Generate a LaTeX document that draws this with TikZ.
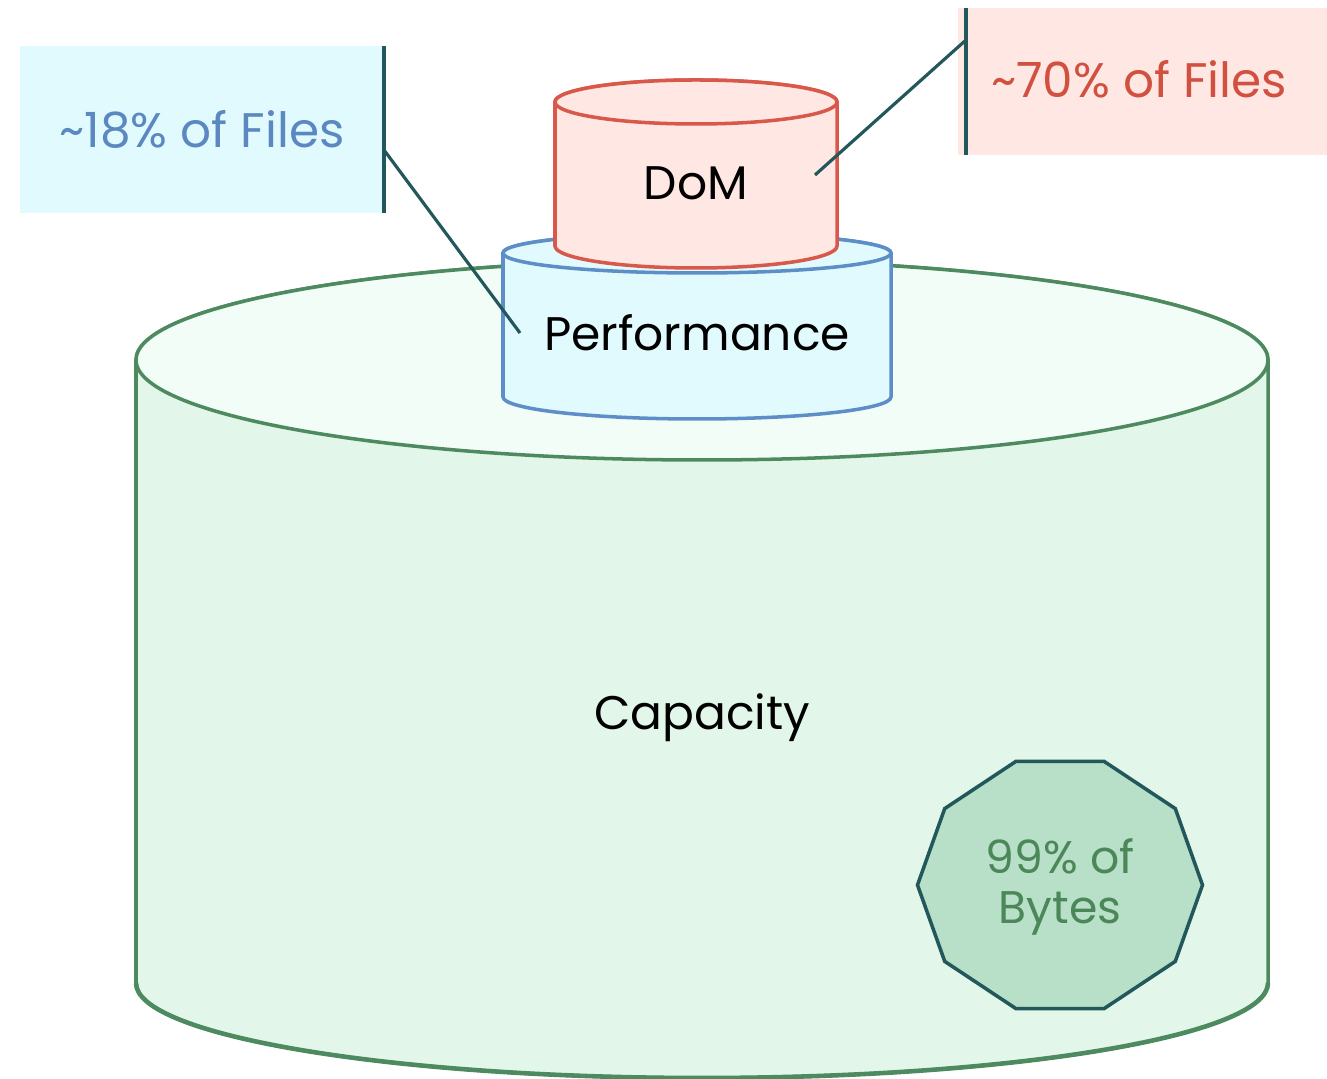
\documentclass[tikz,border=0pt]{standalone}
\usepackage{fontspec}
\setmainfont{Poppins}
\usepackage{tikz}
\usetikzlibrary{positioning}

\definecolor{capline}{HTML}{4E8A60}
\definecolor{captop}{HTML}{F3FDF7}
\definecolor{capbody}{HTML}{E2F6EA}
\definecolor{perfline}{HTML}{5E8EC8}
\definecolor{perffill}{HTML}{E0FAFE}
\definecolor{domline}{HTML}{D9584A}
\definecolor{domfill}{HTML}{FFE8E4}
\definecolor{leader}{HTML}{22575B}
\definecolor{perftext}{HTML}{5B88C0}
\definecolor{domtext}{HTML}{D2503F}
\definecolor{bytefill}{HTML}{B8DFC7}
\definecolor{bytetext}{HTML}{4B8758}

\tikzset{
	label/.style={font=\fontsize{13.4}{16}\selectfont, text=black},
	callout/.style={font=\fontsize{13.8}{15}\selectfont, inner sep=0pt},
	leaderline/.style={draw=leader, line width=0.9pt}
}

\begin{document}
\begin{tikzpicture}[x=0.01cm, y=0.01cm]
	\useasboundingbox (0,0) rectangle (1327,1079);
	% capacity tier
	\draw[capline, line width=1pt, fill=capbody] (136,719) -- (136,96) arc (180:360:566 and 95) -- (1268,719) arc (0:180:566 and 100) -- cycle;
	\draw[capline, line width=1.3pt] (136,96) arc (180:360:566 and 95);
	\draw[capline, line width=1pt, fill=captop] (702,719) ellipse (566 and 100);
	% performance tier
	\draw[perfline, line width=1pt, fill=perffill] (503,826) -- (503,682) arc (180:360:194 and 22) -- (891,826) arc (0:180:194 and 20) -- cycle;
	\draw[perfline, line width=1pt, fill=perffill] (697,826) ellipse (194 and 20);
	% dom tier
	\draw[domline, line width=1pt, fill=domfill] (555,977) -- (555,833) arc (180:360:141 and 22) -- (837,977) arc (0:180:141 and 22) -- cycle;
	\draw[domline, line width=1pt, fill=domfill] (696,977) ellipse (141 and 22);
	% tier labels
	\node[label] (dom) at (696,896) {DoM};
	\node[label] (perf) at (697,746) {Performance};
	\node[label] (cap) at (702,361) {Capacity};
	% bytes badge
	\draw[leader, line width=1pt, fill=bytefill] (1060,194) +(0:142.5 and 130)
		\foreach \a in {36,72,...,324} { -- +(\a:142.5 and 130) } -- cycle;
	\node[callout, text=bytetext, align=center, font=\fontsize{13}{14}\selectfont] (bytes) at (1060,192) {99\% of\\Bytes};
	% callout boxes
	\fill[perffill] (20,866) rectangle (385,1033);
	\node[callout, text=perftext] (perfcall) at (202,950) {\textasciitilde18\% of Files};
	\fill[domfill] (958,924) rectangle (1327,1071);
	\node[callout, text=domtext] (domcall) at (1139,1000) {\textasciitilde70\% of Files};
	\draw[leaderline, line width=1.2pt] (384,866) -- (384,1033);
	\draw[leaderline, line width=1.2pt] (966,924) -- (966,1071);
	\coordinate (perffoot) at (384,929);
	\coordinate (perftip) at (520,746);
	\coordinate (domfoot) at (966,1039);
	\coordinate (domtip) at (815,904);
	\draw[leaderline] (perffoot) -- (perftip);
	\draw[leaderline] (domfoot) -- (domtip);
\end{tikzpicture}
\end{document}
